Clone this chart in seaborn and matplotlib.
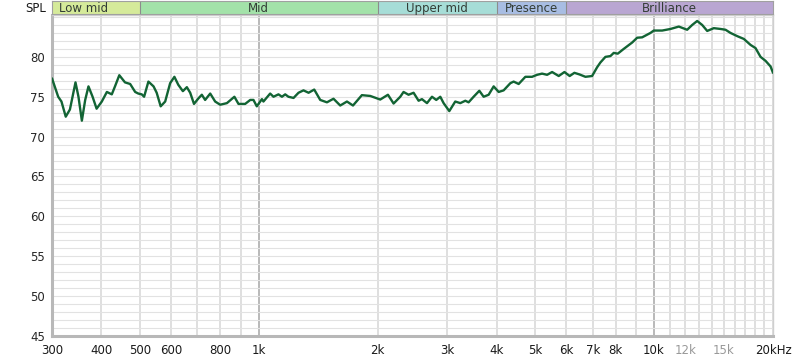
import matplotlib
matplotlib.use("Agg")
import matplotlib.pyplot as plt
import seaborn as sns
import pandas as pd

# ---- data ----
freq_hz = [300, 311, 317, 325, 333, 344, 350, 357, 364, 371, 380, 389, 401, 413, 425,
           433, 444, 459, 473, 487, 496, 506, 513, 526, 542, 552, 565, 580, 597, 612,
           626, 643, 658, 671, 686, 704, 718, 732, 754, 776, 799, 831, 868, 889, 924,
           952, 970, 989, 1019, 1028, 1069, 1090, 1122, 1145, 1167, 1189, 1225, 1261,
           1298, 1337, 1382, 1431, 1488, 1546, 1608, 1672, 1732, 1824, 1915, 2030, 2123,
           2194, 2281, 2325, 2394, 2465, 2538, 2588, 2665, 2744, 2813, 2880, 2936, 3035,
           3142, 3236, 3332, 3396, 3497, 3615, 3707, 3817, 3930, 4046, 4165, 4331, 4415,
           4546, 4727, 4915, 5061, 5210, 5365, 5524, 5741, 5935, 6119, 6289, 6476, 6707,
           6973, 7180, 7319, 7536, 7758, 7910, 8096, 8384, 8806, 9065, 9333, 9795, 9986,
           10487, 11010, 11555, 12131, 12491, 12860, 13241, 13634, 14168, 14731, 15168,
           15618, 16238, 16875, 17548, 18065, 18600, 19152, 19717, 20000]
spl_db = [77.3, 75.0, 74.4, 72.5, 73.4, 76.8, 75.0, 72.0, 74.6, 76.3, 75.0, 73.5, 74.4, 75.6, 75.3,
          76.3, 77.7, 76.8, 76.6, 75.6, 75.4, 75.3, 75.0, 76.9, 76.3, 75.5, 73.8, 74.4, 76.7, 77.5,
          76.5, 75.7, 76.2, 75.5, 74.1, 74.8, 75.25, 74.6, 75.4, 74.4, 74.0, 74.2, 75.0, 74.1, 74.1,
          74.6, 74.6, 73.8, 74.7, 74.4, 75.4, 75.0, 75.3, 75.0, 75.3, 75.0, 74.85, 75.5,
          75.8, 75.5, 75.9, 74.6, 74.3, 74.75, 73.9, 74.4, 73.9, 75.2, 75.1, 74.65, 75.25,
          74.15, 75.0, 75.6, 75.25, 75.5, 74.5, 74.7, 74.2, 75.0, 74.6, 75.0, 74.2, 73.2,
          74.4, 74.2, 74.5, 74.3, 75.0, 75.75, 75.0, 75.25, 76.3, 75.6, 75.8, 76.7, 76.9,
          76.6, 77.5, 77.5, 77.75, 77.9, 77.75, 78.1, 77.6, 78.1, 77.6, 78.0, 77.8, 77.5,
          77.6, 78.7, 79.3, 80.0, 80.1, 80.5, 80.4, 81.0, 81.8, 82.4, 82.45, 83.0, 83.3,
          83.3, 83.5, 83.8, 83.4, 84.0, 84.5, 84.0, 83.25, 83.6, 83.5, 83.4,
          83.0, 82.6, 82.25, 81.5, 81.1, 80.0, 79.5, 78.8, 78.0]

band_names = ["Low mid", "Mid", "Upper mid", "Presence", "Brilliance"]
band_edges = [300, 500, 2000, 4000, 6000, 20000]
band_colors = ["#d5ea9a", "#a3e2a9", "#a6ddd7", "#a8bde3", "#b9a6d2"]

x_grid = [300, 400, 500, 600, 700, 800, 900, 1000, 2000, 3000, 4000, 5000, 6000, 7000,
          8000, 9000, 10000, 11000, 12000, 13000, 14000, 15000, 16000, 17000, 18000,
          19000, 20000]
x_labels = {300: "300", 400: "400", 500: "500", 600: "600", 800: "800", 1000: "1k",
            2000: "2k", 3000: "3k", 4000: "4k", 5000: "5k", 6000: "6k", 7000: "7k",
            8000: "8k", 10000: "10k", 12000: "12k", 15000: "15k", 20000: "20kHz"}
gray_labels = [12000, 15000]
y_min, y_max = 45, 85.25

df = pd.DataFrame({"freq": freq_hz, "spl": spl_db})

sns.set_style("white")
plt.rcParams["font.family"] = ["DejaVu Sans"]

fig = plt.figure(figsize=(8, 3.6), dpi=100)
ax = fig.add_axes([52 / 800, 1 - 336 / 360, 721 / 800, 321 / 360])

ax.set_xscale("log")
ax.set_xlim(300, 20000)
ax.set_ylim(y_min, y_max)

# grid
for f in x_grid:
    c = "#a6a6a6" if f in (1000, 10000) else "#d6d6d6"
    ax.axvline(f, color=c, lw=1.1, zorder=0)
for v in range(46, 86):
    ax.axhline(v, color="#e2e2e2", lw=0.8, zorder=0)

sns.lineplot(data=df, x="freq", y="spl", ax=ax, color="#126434", lw=1.7, zorder=3)

ax.set_xticks(x_grid)
ax.set_xticklabels([x_labels.get(f, "") for f in x_grid])
ax.xaxis.set_minor_locator(matplotlib.ticker.NullLocator())
for f, lab in zip(x_grid, ax.get_xticklabels()):
    if f in gray_labels:
        lab.set_color("#999999")
    else:
        lab.set_color("#1a1a1a")
ax.set_yticks(list(range(45, 85, 5)))
ax.tick_params(axis="both", length=0, labelsize=8.5)
ax.tick_params(axis="x", pad=6)
ax.tick_params(axis="y", pad=5)
ax.set_xlabel("")
ax.set_ylabel("")

for s in ["left", "bottom"]:
    ax.spines[s].set_color("#b8b8b8")
    ax.spines[s].set_linewidth(2.2)
for s in ["top", "right"]:
    ax.spines[s].set_color("#cfcfcf")
    ax.spines[s].set_linewidth(1.0)

fig.text(46 / 800, 1 - 8 / 360, "SPL", ha="right", va="center", fontsize=8.5, color="#1a1a1a")

# band bar
bx = fig.add_axes([52 / 800, 1 - 14 / 360, 721 / 800, 13 / 360])
bx.set_xscale("log")
bx.set_xlim(300, 20000)
bx.set_ylim(0, 1)
for i, name in enumerate(band_names):
    lo, hi = band_edges[i], band_edges[i + 1]
    bx.axvspan(lo, hi, color=band_colors[i], lw=0)
    if i > 0:
        bx.axvline(lo, color="#8c8c8c", lw=0.8)
    if i == 0:
        bx.text(lo * 1.04, 0.45, name, ha="left", va="center", fontsize=8.5, color="#333d36")
    else:
        bx.text((lo * hi) ** 0.5, 0.45, name, ha="center", va="center", fontsize=8.5,
                color="#333d36")
bx.set_xticks([])
bx.set_yticks([])
bx.xaxis.set_minor_locator(matplotlib.ticker.NullLocator())
for s in bx.spines.values():
    s.set_color("#a0a0a0")
    s.set_linewidth(0.8)

fig.savefig("out.png", dpi=100)
